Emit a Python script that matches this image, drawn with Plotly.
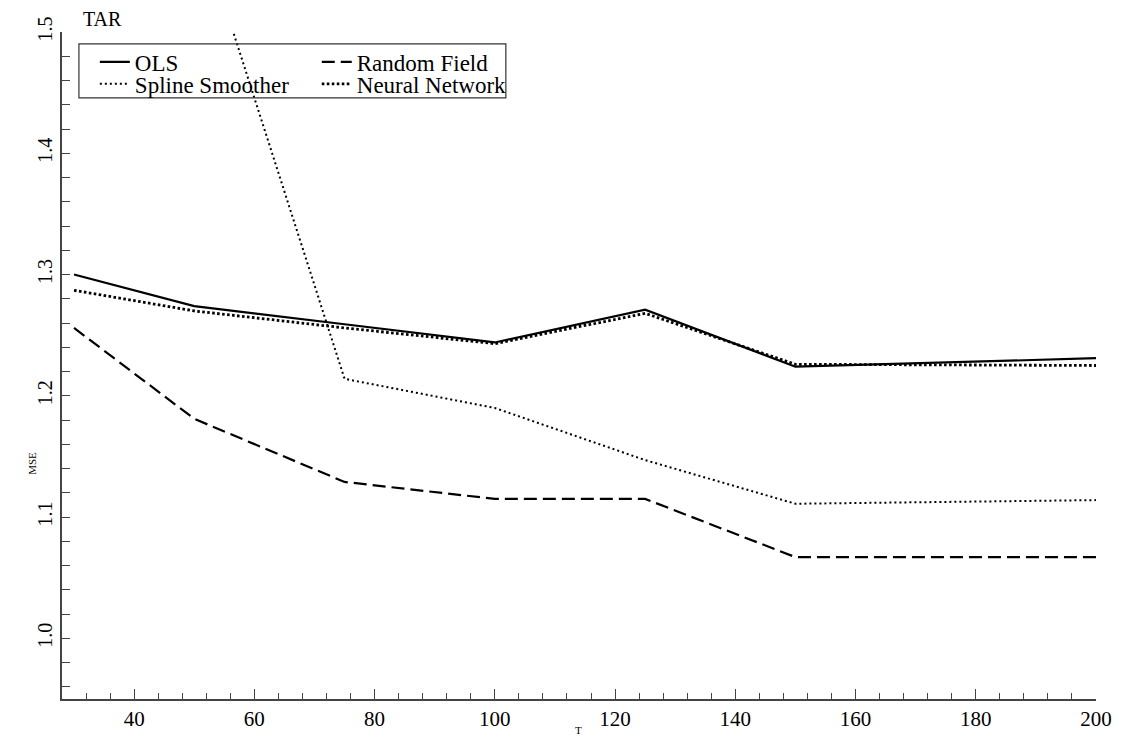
import plotly.graph_objects as go

T = [30, 50, 75, 100, 125, 150, 200]
ols = [1.300, 1.274, 1.259, 1.244, 1.271, 1.224, 1.231]
random_field = [1.256, 1.181, 1.129, 1.115, 1.115, 1.067, 1.067]
spline = [1.80, 1.60, 1.214, 1.190, 1.147, 1.111, 1.114]
neural = [1.287, 1.270, 1.256, 1.243, 1.268, 1.226, 1.225]

FONT = "Liberation Serif"
fig = go.Figure()
fig.add_trace(go.Scatter(x=T, y=ols, name="OLS", mode="lines",
                         line=dict(color="black", width=2.2), legend="legend"))
fig.add_trace(go.Scatter(x=T, y=random_field, name="Random Field", mode="lines",
                         line=dict(color="black", width=2.2, dash="13px,6px"), legend="legend2"))
fig.add_trace(go.Scatter(x=T, y=spline, name="Spline Smoother", mode="lines",
                         line=dict(color="black", width=2, dash="2px,3px"), legend="legend3"))
fig.add_trace(go.Scatter(x=T, y=neural, name="Neural Network", mode="lines",
                         line=dict(color="black", width=2.8, dash="2.6px,2.4px"), legend="legend4"))

W, H = 1124, 743
L, R, Tm, B = 62, 23, 32, 42
pw, ph = W - L - R, H - Tm - B


def px(x):
    return (x - L) / pw


def py(y):
    return (H - B - y) / ph


legfont = dict(family=FONT, size=23, color="black")


def leg(x, y):
    return dict(x=px(x), y=py(y), xanchor="left", yanchor="middle",
                bgcolor="rgba(0,0,0,0)", borderwidth=0, font=legfont,
                tracegroupgap=0, itemwidth=30)


fig.update_layout(
    width=W, height=H,
    margin=dict(l=L, r=R, t=Tm, b=B),
    paper_bgcolor="white", plot_bgcolor="white",
    showlegend=True,
    legend=leg(95, 62),
    legend2=leg(318, 62),
    legend3=leg(95, 84),
    legend4=leg(318, 84),
    xaxis=dict(range=[28, 200], showgrid=False, zeroline=False,
               showline=True, linecolor="#444", linewidth=1.5,
               ticks="inside", ticklen=10, tickcolor="#444", tickwidth=1,
               tick0=0, dtick=20,
               minor=dict(ticks="inside", ticklen=6, dtick=4, tick0=0, tickcolor="#444", tickwidth=1),
               tickfont=dict(family=FONT, size=21, color="black")),
    yaxis=dict(range=[0.95, 1.5], showgrid=False, zeroline=False,
               showline=True, linecolor="#444", linewidth=1.5,
               ticks="inside", ticklen=8, tickcolor="#444", tickwidth=1,
               tick0=0, dtick=0.1, tickformat=".1f", tickangle=-90,
               minor=dict(ticks="inside", ticklen=8, dtick=0.02, tick0=0, tickcolor="#444", tickwidth=1),
               tickfont=dict(family=FONT, size=20, color="black")),
    shapes=[dict(type="rect", xref="paper", yref="paper",
                 x0=px(79), x1=px(508), y0=py(98), y1=py(44),
                 line=dict(color="#333", width=1.2), fillcolor="rgba(0,0,0,0)")],
    annotations=[
        dict(text="TAR", xref="paper", yref="paper", x=px(81), y=py(19),
             xanchor="left", yanchor="middle", showarrow=False,
             font=dict(family=FONT, size=20, color="black")),
        dict(text="T", xref="paper", yref="paper", x=px(581), y=py(732),
             xanchor="center", yanchor="middle", showarrow=False,
             font=dict(family=FONT, size=11, color="black")),
        dict(text="MSE", xref="paper", yref="paper", x=px(32), y=py(465),
             xanchor="center", yanchor="middle", showarrow=False, textangle=-90,
             font=dict(family=FONT, size=11, color="black")),
    ],
)

fig.write_html("out.html", config={"displayModeBar": False},
               post_script="document.body.style.margin='0';document.body.style.overflow='hidden';")
